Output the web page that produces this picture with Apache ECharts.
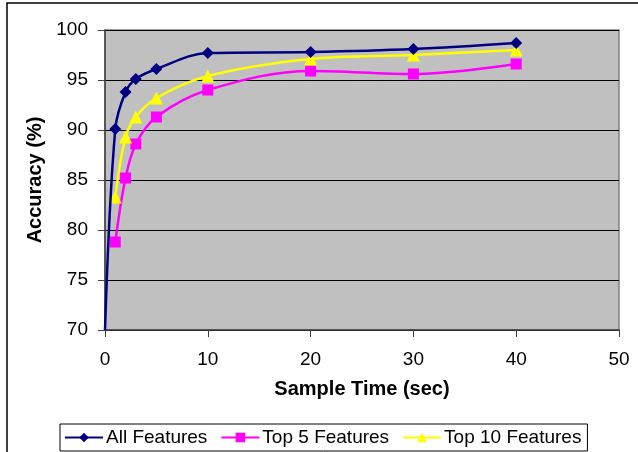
<!DOCTYPE html>
<html lang="en">
<head>
    <meta charset="UTF-8">
    <title>Accuracy vs Sample Time</title>
    <script src="https://cdn.jsdelivr.net/npm/echarts@6/dist/echarts.min.js"></script>
    <style>
        html, body { margin: 0; padding: 0; background: #fff; }
        #chart { width: 638px; height: 452px; }
    </style>
</head>
<body>
    <div id="chart"></div>
    <script>
        // sample times (sec)
        var sampleTimes = [1, 2, 3, 5, 10, 20, 30, 40];
        // accuracy (%) per feature set
        var allFeatures = [90.1, 93.8, 95.1, 96.1, 97.7, 97.8, 98.1, 98.7];
        var top5Features = [78.8, 85.2, 88.6, 91.3, 94.0, 95.9, 95.6, 96.6];
        var top10Features = [83.3, 89.3, 91.3, 93.2, 95.4, 97.1, 97.5, 98.0];
        // blue curve starts at the origin of the plot
        var allStart = [0, 70];

        var font = 'Liberation Sans';

        function pairs(xs, ys) {
            return xs.map(function (x, i) { return [x, ys[i]]; });
        }

        var allData = [{ value: allStart, symbol: 'none' }].concat(pairs(sampleTimes, allFeatures));

        var chart = echarts.init(document.getElementById('chart'));
        chart.setOption({
            animation: false,
            textStyle: { fontFamily: font },
            graphic: [{
                type: 'rect',
                shape: { x: 7, y: 3, width: 700, height: 600 },
                style: { fill: 'none', stroke: '#000', lineWidth: 1.5 },
                silent: true
            }],
            grid: {
                left: 105, top: 30, width: 514, height: 300,
                show: true,
                backgroundColor: '#C0C0C0',
                borderColor: '#808080',
                borderWidth: 1.5
            },
            legend: {
                bottom: 1,
                left: 60,
                backgroundColor: '#fff',
                borderColor: '#000',
                borderWidth: 1,
                padding: [4, 6, 4, 4],
                itemGap: 13,
                itemWidth: 38,
                itemHeight: 12,
                textStyle: { fontFamily: font, fontSize: 19, color: '#000', padding: [0, 0, 0, -2] },
                data: ['All Features', 'Top 5 Features', 'Top 10 Features']
            },
            xAxis: {
                type: 'value',
                min: 0, max: 50, interval: 10,
                name: 'Sample Time (sec)',
                nameLocation: 'middle',
                nameGap: 49,
                nameTextStyle: { fontFamily: font, fontSize: 20, fontWeight: 'bold', color: '#000' },
                axisLine: { show: true, onZero: false, lineStyle: { color: '#404040', width: 1.5 } },
                axisTick: { show: true, inside: false, length: 7, lineStyle: { color: '#404040' } },
                axisLabel: { fontFamily: font, fontSize: 19, color: '#000', margin: 20 },
                splitLine: { show: false }
            },
            yAxis: {
                type: 'value',
                min: 70, max: 100, interval: 5,
                name: 'Accuracy (%)',
                nameLocation: 'middle',
                nameGap: 57,
                nameRotate: 90,
                nameTextStyle: { fontFamily: font, fontSize: 20, fontWeight: 'bold', color: '#000' },
                axisLine: { show: true, lineStyle: { color: '#404040', width: 1.5 } },
                axisTick: { show: true, inside: false, length: 7, lineStyle: { color: '#404040' } },
                axisLabel: { fontFamily: font, fontSize: 19, color: '#000', margin: 17 },
                splitLine: { show: true, lineStyle: { color: '#000', width: 1 } }
            },
            series: [{
                name: 'All Features',
                type: 'line',
                data: allData,
                smooth: 0.35,
                symbol: 'diamond',
                symbolSize: 12,
                color: '#000080',
                lineStyle: { width: 2.5, color: '#000080' },
                z: 3
            }, {
                name: 'Top 5 Features',
                type: 'line',
                data: pairs(sampleTimes, top5Features),
                smooth: 0.35,
                symbol: 'rect',
                symbolSize: 11,
                color: '#FF00FF',
                lineStyle: { width: 2.5, color: '#FF00FF' },
                z: 2
            }, {
                name: 'Top 10 Features',
                type: 'line',
                data: pairs(sampleTimes, top10Features),
                smooth: 0.35,
                symbol: 'triangle',
                symbolSize: 13,
                color: '#FFFF00',
                lineStyle: { width: 2.5, color: '#FFFF00' },
                z: 2
            }]
        });
    </script>
</body>
</html>
